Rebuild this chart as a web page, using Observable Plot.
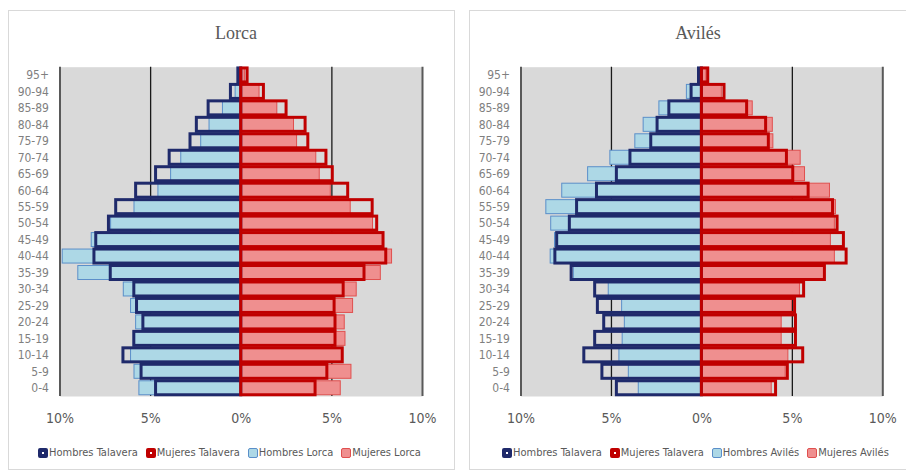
<!DOCTYPE html>
<html>
<head>
<meta charset="utf-8">
<script src="https://cdn.jsdelivr.net/npm/d3@7"></script>
<script src="https://cdn.jsdelivr.net/npm/@observablehq/plot@0.6"></script>
<style>
  html, body { margin: 0; padding: 0; background: #fff; }
  #root { position: relative; width: 906px; height: 472px; overflow: hidden; background: #fff;
          font-family: "Liberation Sans Narrow", "DejaVu Sans Condensed", "Roboto", sans-serif; color: #595959; }
  .card { position: absolute; border: 1px solid #d9d9d9; box-sizing: border-box; background: #fff; }
  .title { position: absolute; font-family: "Liberation Serif", "DejaVu Serif", serif; font-size: 18px; color: #595959;
           transform: translateX(-50%); white-space: nowrap; }
  .plot { position: absolute; }
  .legend { position: absolute; display: flex; align-items: center; font-size: 11px; color: #595959; white-space: nowrap; }
  .item { display: flex; align-items: center; margin-right: 8px; }
  .mk { display: inline-block; width: 10px; height: 10px; box-sizing: border-box; border-radius: 2px; margin-right: 1px; }
</style>
</head>
<body>
<div id="root"></div>
<script>
// ---- data (percent of population) ----
const ages = ["0-4","5-9","10-14","15-19","20-24","25-29","30-34","35-39","40-44","45-49",
              "50-54","55-59","60-64","65-69","70-74","75-79","80-84","85-89","90-94","95+"];
const talaveraMen   = [4.70, 5.50, 6.50, 5.90, 5.40, 5.75, 5.90, 7.20, 8.10, 8.00, 7.30, 6.90, 5.80, 4.70, 3.95, 2.80, 2.45, 1.80, 0.57, 0.16];
const talaveraWomen = [4.10, 4.75, 5.60, 5.20, 5.20, 5.15, 5.65, 6.80, 8.00, 7.85, 7.50, 7.25, 5.90, 5.05, 4.70, 3.70, 3.55, 2.50, 1.25, 0.35];
const lorcaMen      = [5.62, 5.89, 6.08, 5.93, 5.80, 6.08, 6.48, 8.99, 9.85, 8.25, 7.18, 5.89, 4.57, 3.87, 3.31, 2.21, 1.75, 1.01, 0.31, 0.10];
const lorcaWomen    = [5.49, 6.08, 5.56, 5.75, 5.71, 6.17, 6.37, 7.70, 8.32, 7.83, 7.27, 6.04, 4.94, 4.33, 4.14, 3.08, 2.91, 1.99, 1.01, 0.20];
const avilesMen     = [3.49, 4.04, 4.56, 4.38, 4.26, 4.41, 5.15, 7.08, 8.36, 8.12, 8.33, 8.60, 7.72, 6.29, 5.06, 3.68, 3.22, 2.35, 0.83, 0.10];
const avilesWomen   = [3.86, 4.63, 4.78, 4.41, 4.41, 4.98, 5.42, 6.75, 7.35, 7.13, 7.35, 7.41, 7.08, 5.70, 5.46, 3.95, 3.92, 2.81, 1.10, 0.25];
const xTicks = [-10, -5, 0, 5, 10];
const panels = [
  {title: "Lorca",  men: lorcaMen,  women: lorcaWomen},
  {title: "Avilés", men: avilesMen, women: avilesWomen}
];

// ---- colours ----
const C = {
  navy: "#1f2a6b", red: "#c00000",
  blueFill: "#add8e6", blueStroke: "#5b8fc9",
  pinkFill: "#ef8f8f", pinkStroke: "#e0504f",
  bg: "#d9d9d9"
};

const root = document.getElementById("root");

// layout per panel
const layout = [
  {card: [8, 10, 447, 460], titleX: 236, svgLeft: 0, svgW: 455, ml: 59.5, mr: 33, legendX: 38},
  {card: [469, 10, 445, 460], titleX: 698, svgLeft: 455, svgW: 451, ml: 65.5, mr: 23.7, legendX: 502}
];

panels.forEach((p, k) => {
  const L = layout[k];
  const card = document.createElement("div");
  card.className = "card";
  Object.assign(card.style, {left: L.card[0] + "px", top: L.card[1] + "px", width: L.card[2] + "px", height: L.card[3] + "px"});
  root.appendChild(card);

  const t = document.createElement("div");
  t.className = "title";
  t.textContent = p.title;
  Object.assign(t.style, {left: L.titleX + "px", top: "23px"});
  root.appendChild(t);

  const rows = ages.map((a, i) => ({age: a, tm: talaveraMen[i], tw: talaveraWomen[i], lm: p.men[i], lw: p.women[i]}));

  const chart = Plot.plot({
    width: L.svgW, height: 380,
    marginLeft: L.ml, marginRight: L.mr, marginTop: 16.7, marginBottom: 34,
    style: {fontFamily: '"Liberation Sans Narrow", "DejaVu Sans Condensed", sans-serif', color: "#595959", background: "transparent", overflow: "visible"},
    x: {domain: [-10, 10]},
    y: {domain: ages.slice().reverse(), paddingInner: 0.15, paddingOuter: 0.075, round: false},
    marks: [
      Plot.frame({fill: C.bg, stroke: "none"}),
      Plot.ruleX([-10, 10], {stroke: "#595959", strokeWidth: 2}),
      Plot.ruleX([-5, 5], {stroke: "#1a1a1a", strokeWidth: 1.3}),
      Plot.barX(rows, {y: "age", x1: 0, x2: d => -d.lm, fill: C.blueFill, stroke: C.blueStroke, strokeWidth: 1}),
      Plot.barX(rows, {y: "age", x1: 0, x2: d => d.lw, fill: C.pinkFill, stroke: C.pinkStroke, strokeWidth: 1}),
      Plot.barX(rows, {y: "age", x1: 0, x2: d => -d.tm, fill: "none", stroke: C.navy, strokeWidth: 3}),
      Plot.barX(rows, {y: "age", x1: 0, x2: d => d.tw, fill: "none", stroke: C.red, strokeWidth: 3}),
      Plot.axisX({ticks: xTicks, tickFormat: d => Math.abs(d) + "%", tickSize: 0, tickPadding: 17, fontSize: 14, label: null, fill: "#595959"}),
      Plot.axisY({tickSize: 0, tickPadding: 11, fontSize: 12, label: null, fill: "#7f7f7f"})
    ]
  });
  chart.classList.add("plot");
  Object.assign(chart.style, {left: L.svgLeft + "px", top: "50px"});
  root.appendChild(chart);

  // legend
  const lg = document.createElement("div");
  lg.className = "legend";
  Object.assign(lg.style, {left: L.legendX + "px", top: "446px"});
  const items = [
    {label: "Hombres Talavera", style: `border:4px solid ${C.navy};background:#fff;`},
    {label: "Mujeres Talavera", style: `border:4px solid ${C.red};background:#fff;`},
    {label: "Hombres " + p.title, style: `border:1.5px solid ${C.blueStroke};background:${C.blueFill};`},
    {label: "Mujeres " + p.title, style: `border:1.5px solid ${C.pinkStroke};background:${C.pinkFill};`}
  ];
  items.forEach(it => {
    const s = document.createElement("span");
    s.className = "item";
    s.innerHTML = `<span class="mk" style="${it.style}"></span>${it.label}`;
    lg.appendChild(s);
  });
  root.appendChild(lg);
});
</script>
</body>
</html>
